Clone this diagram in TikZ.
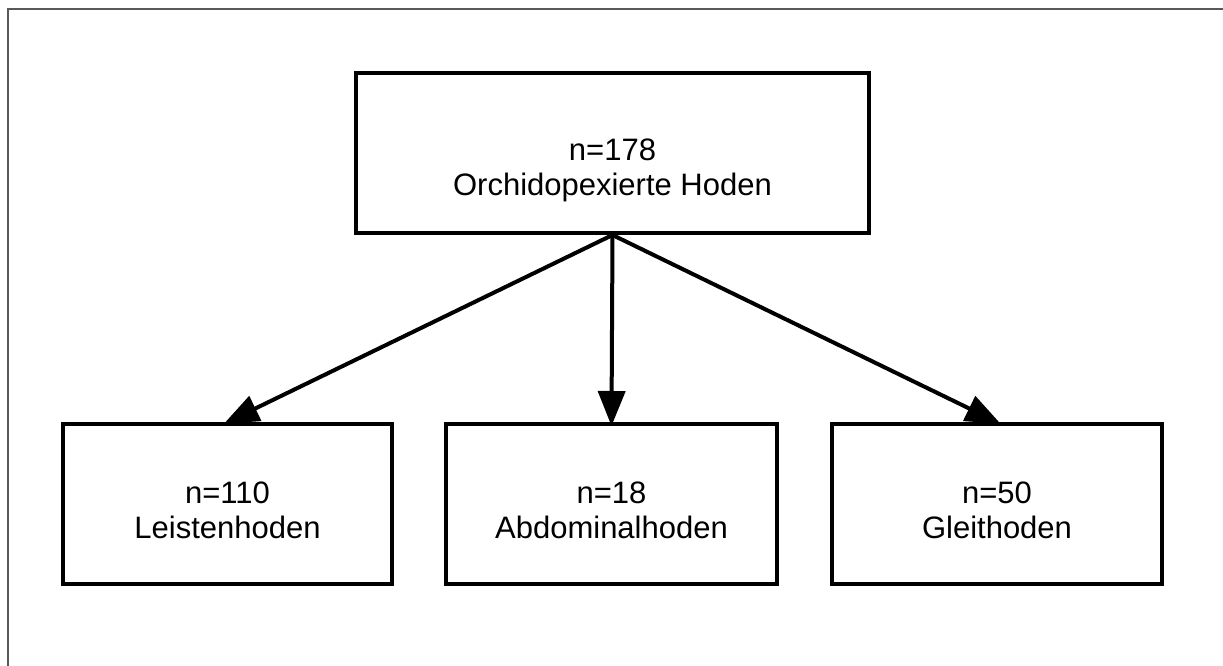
\documentclass[tikz,border=0pt]{standalone}
\usepackage{fontspec}
\setmainfont{Liberation Sans}
\usetikzlibrary{arrows.meta}
\pgfdeclarelayer{background}
\pgfsetlayers{background,main}
\begin{document}
\begin{tikzpicture}[x=1pt,y=-1pt,
  box/.style={draw=black,line width=4pt,fill=white,rectangle,inner sep=0pt},
  lbl/.style={align=center,font=\fontsize{31}{35}\selectfont,inner sep=0pt},
  arr/.style={line width=4pt,-{Triangle[length=35pt,width=27pt]},shorten >=-4pt}]
\useasboundingbox (0,0) rectangle (1223,666);
\draw[line width=2.5pt,draw=black!65] (8,666) -- (8,9) -- (1223,9);
\node[box,minimum width=513pt,minimum height=160pt] (top) at (612.5,153) {};
\node[box,minimum width=329pt,minimum height=160pt] (left) at (227.5,504) {};
\node[box,minimum width=331pt,minimum height=160pt] (mid) at (611.5,504) {};
\node[box,minimum width=330pt,minimum height=160pt] (right) at (997,504) {};
\node[lbl] (toptext) at (612.5,170) {n=178\\Orchidopexierte Hoden};
\node[lbl] (lefttext) at (227.5,510) {n=110\\Leistenhoden};
\node[lbl] (midtext) at (611.5,510) {n=18\\Abdominalhoden};
\node[lbl] (righttext) at (997,510) {n=50\\Gleithoden};
\begin{pgfonlayer}{background}
\draw[arr] (top.south) -- (left.north);
\draw[arr] (top.south) -- (mid.north);
\draw[arr] (top.south) -- (right.north);
\end{pgfonlayer}
\end{tikzpicture}
\end{document}
